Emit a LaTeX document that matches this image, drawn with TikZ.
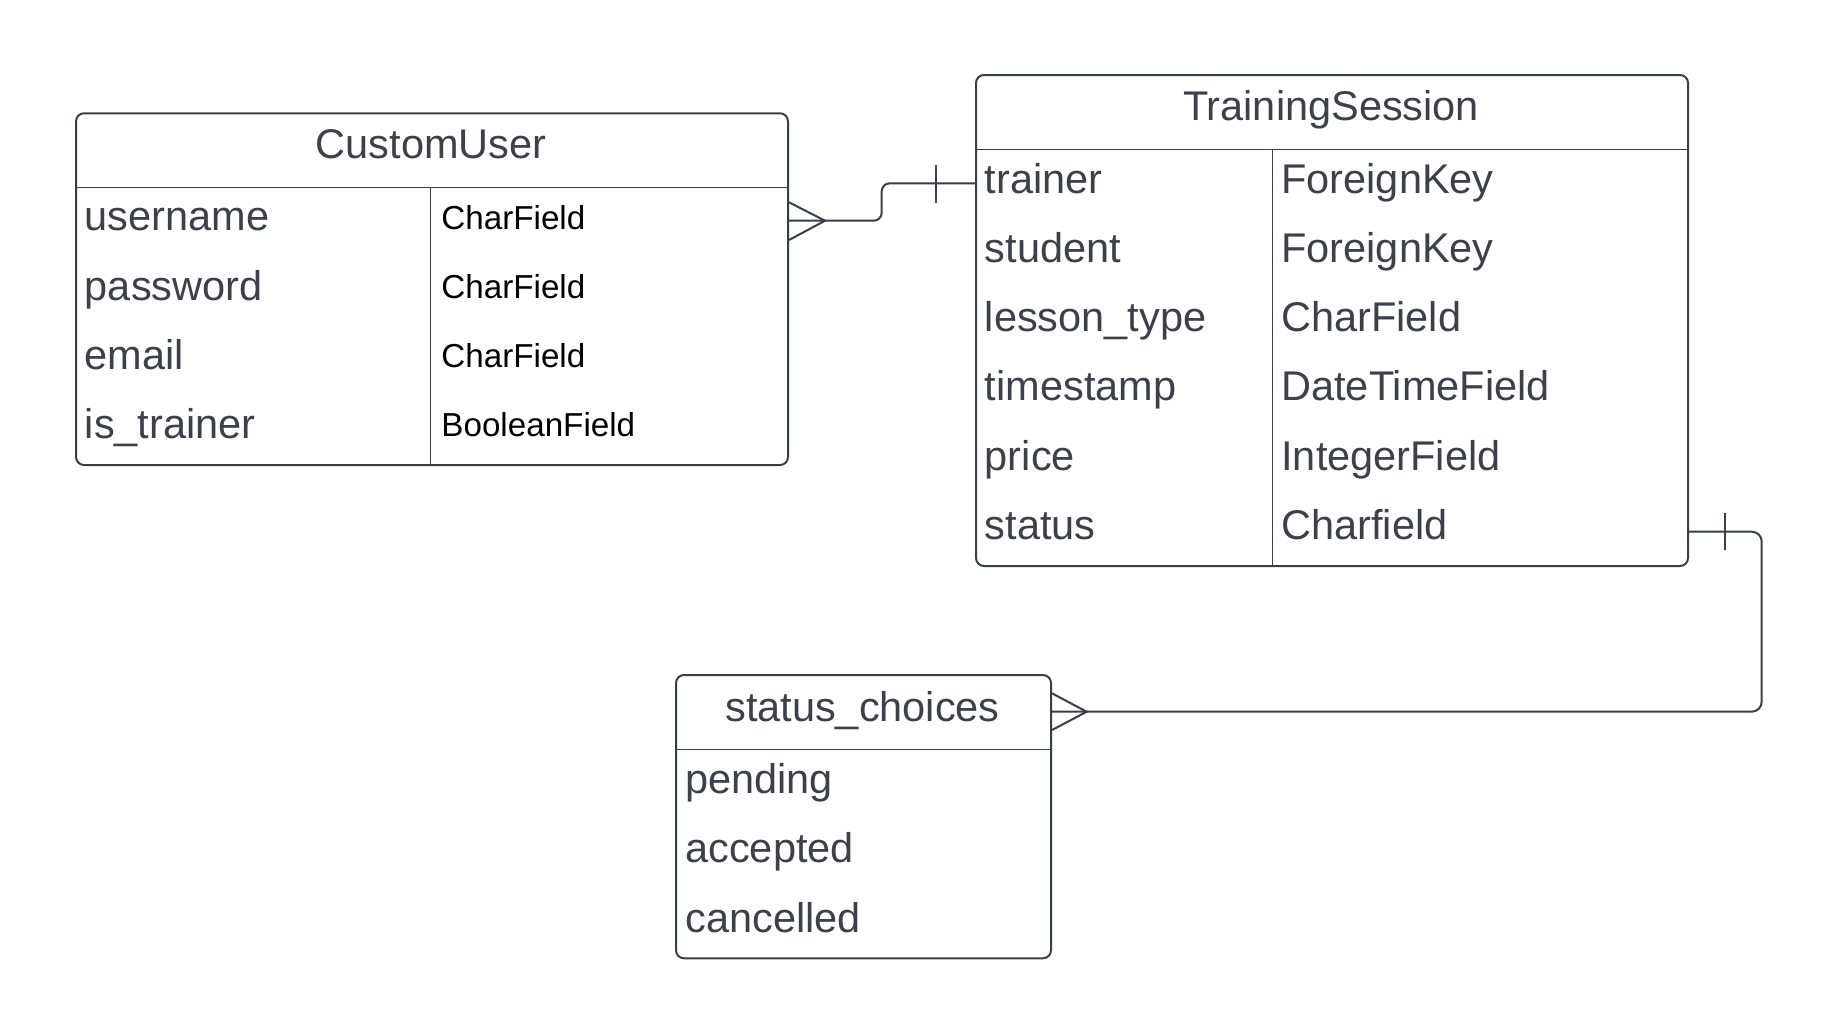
\documentclass[tikz,border=0pt]{standalone}
\usepackage{fontspec}
\setmainfont{Liberation Sans}
\begin{document}
\begin{tikzpicture}[x=0.5pt,y=-0.5pt,
  line/.style={draw=lineC, line width=1pt},
  thin/.style={draw=lineC, line width=0.75pt},
  tbl/.style={draw=lineC, line width=1pt, rounded corners=4pt, inner sep=0pt, anchor=north west},
  title/.style={text=textC, font=\fontsize{20.75}{24}\selectfont, anchor=base, inner sep=0pt},
  fld/.style={text=textC, font=\fontsize{20.75}{24}\selectfont, anchor=base west, inner sep=0pt},
  val/.style={text=black, font=\fontsize{16.6}{20}\selectfont, anchor=base west, inner sep=0pt}]
\definecolor{lineC}{HTML}{3A3F47}
\definecolor{textC}{HTML}{3B4049}
\useasboundingbox (0,0) rectangle (1839,1033);
\fill[white] (0,0) rectangle (1839,1033);

% CustomUser
\node[tbl, minimum width=356pt, minimum height=175.85pt] (cu) at (75,112.3) {};
\draw[thin] (75,187.3) -- (787,187.3);
\draw[thin] (430.4,187.3) -- (430.4,464);
\node[title] (cut) at (431,158.5) {CustomUser};
\node[fld] (cu1) at (84.5,230.8) {username};
\node[fld] (cu2) at (84.5,300) {password};
\node[fld] (cu3) at (84.5,369.2) {email};
\node[fld] (cu4) at (84.5,438.4) {is\_trainer};
\node[val] (cu1v) at (441,229.3) {CharField};
\node[val] (cu2v) at (441,298.5) {CharField};
\node[val] (cu3v) at (441,367.7) {CharField};
\node[val] (cu4v) at (441,436.9) {BooleanField};

% TrainingSession
\node[tbl, minimum width=356pt, minimum height=245.5pt] (ts) at (975,74) {};
\draw[thin] (975,149.3) -- (1687,149.3);
\draw[thin] (1272.4,149.3) -- (1272.4,565);
\node[title] (tst) at (1331,120.5) {TrainingSession};
\foreach \n/\f/\v [count=\i] in {trainer/trainer/ForeignKey, student/student/ForeignKey, lesson/lesson\_type/CharField, timestamp/timestamp/DateTimeField, price/price/IntegerField, status/status/Charfield}{
  \node[fld] (ts\n) at (984.5,{193+69.3*(\i-1)}) {\f};
  \node[fld] (ts\n v) at (1281,{193+69.3*(\i-1)}) {\v};
}

% status_choices
\node[tbl, minimum width=187.5pt, minimum height=141.65pt] (sc) at (675,674) {};
\draw[thin] (675,749.3) -- (1050,749.3);
\node[title] (sct) at (862.5,721.5) {status\_choices};
\node[fld] (sc1) at (685,793) {pending};
\node[fld] (sc2) at (685,862.5) {accepted};
\node[fld] (sc3) at (685,932) {cancelled};

% connector 1: CustomUser (many) -- TrainingSession.trainer (one)
\coordinate (c1a) at (cu.east |- 0,220.7);
\coordinate (c1b) at (ts.west |- 0,183.3);
\coordinate (c1apex) at (825,220.7);
\draw[line, rounded corners=4pt] (c1a) -- (881.7,220.7) -- (881.7,183.3) -- (c1b);
\draw[line] (cu.east |- 0,202.3) -- (c1apex) -- (cu.east |- 0,240);
\draw[line] (936,165) -- (936,202.5);

% connector 2: TrainingSession.status (one) -- status_choices (many)
\coordinate (c2a) at (ts.east |- 0,531.7);
\coordinate (c2b) at (sc.east |- 0,711.7);
\coordinate (c2apex) at (1086.7,711.7);
\draw[line, rounded corners=5pt] (c2a) -- (1761.7,531.7) -- (1761.7,711.7) -- (c2b);
\draw[line] (sc.east |- 0,693.3) -- (c2apex) -- (sc.east |- 0,730);
\draw[line] (1725,513) -- (1725,549.5);
\end{tikzpicture}
\end{document}
